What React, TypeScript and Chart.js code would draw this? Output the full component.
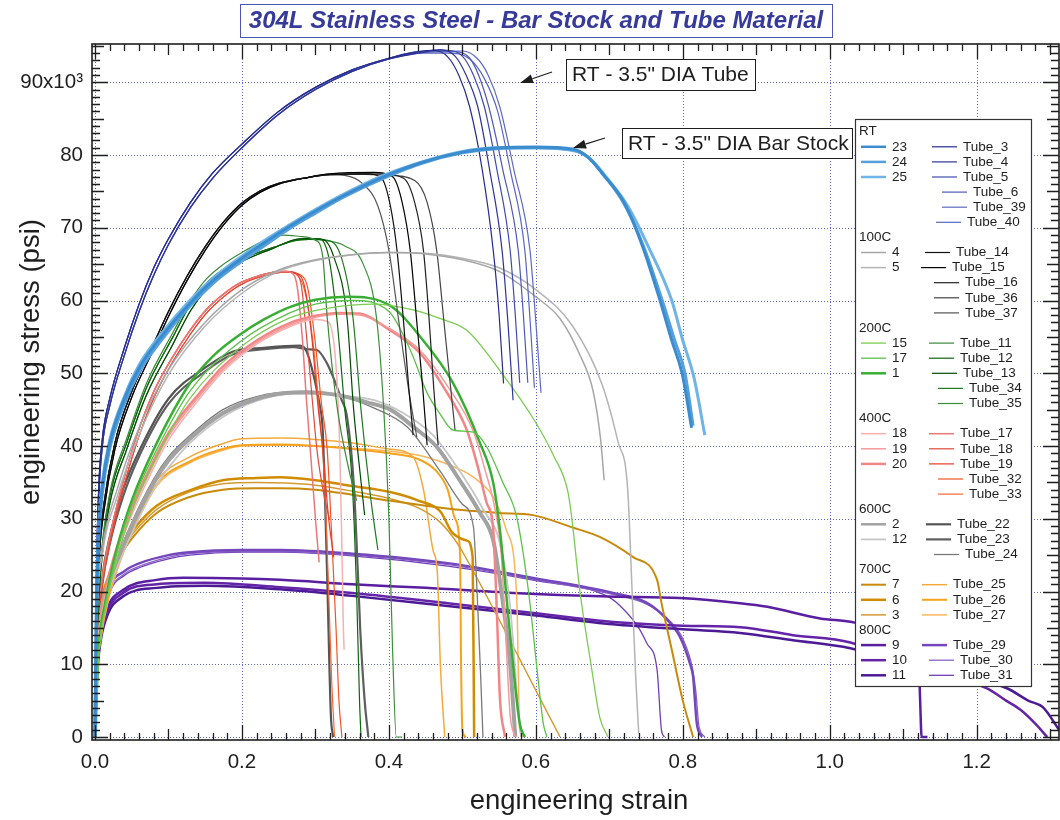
import React, { useEffect, useRef } from 'react';
import { Chart, registerables } from 'chart.js';

Chart.register(...registerables);

type P = [number, number];

// ---------- axis ticks ----------
const xTickValues = [0, 0.2, 0.4, 0.6, 0.8, 1.0, 1.2];
const yTickValues = [0, 10000, 20000, 30000, 40000, 50000, 60000, 70000, 80000, 90000];

// ---------- RT : 3.5" DIA bar stock ----------
const bar23: P[] = [[0,0],[0.002,18000],[0.005,28000],[0.01,34500],[0.02,40400],[0.04,46500],[0.061,50900],[0.09,55000],[0.129,59600],[0.16,62700],[0.197,65600],[0.23,67900],[0.265,70200],[0.3,72300],[0.338,74400],[0.39,76900],[0.446,79000],[0.5,80400],[0.55,81000],[0.6,81100],[0.651,80800],[0.67,79800],[0.69,77500],[0.72,73500],[0.745,67500],[0.769,60000],[0.785,54500],[0.799,50000],[0.812,42500]];
const bar24: P[] = [[0,0],[0.002,17000],[0.005,27000],[0.01,33500],[0.02,39600],[0.04,45800],[0.061,50300],[0.09,54500],[0.129,59200],[0.16,62300],[0.197,65200],[0.23,67500],[0.265,69900],[0.3,72000],[0.338,74200],[0.39,76700],[0.446,78900],[0.5,80300],[0.55,80900],[0.6,81000],[0.651,80700],[0.672,79600],[0.692,77300],[0.72,73300],[0.746,67600],[0.772,60000],[0.789,54500],[0.803,50000],[0.814,42800]];
const bar25: P[] = [[0,0],[0.002,19000],[0.005,29000],[0.01,35000],[0.02,40800],[0.04,46800],[0.061,51300],[0.09,55400],[0.129,60000],[0.16,63000],[0.197,65900],[0.23,68200],[0.265,70400],[0.3,72500],[0.338,74600],[0.39,77100],[0.446,79100],[0.5,80500],[0.55,81000],[0.6,81000],[0.655,80500],[0.677,79200],[0.697,76800],[0.725,73000],[0.755,67000],[0.785,60000],[0.8,54500],[0.815,49500],[0.83,41500]];

// ---------- RT : 3.5" DIA tube ----------
const rtTubeRiseA: P[] = [[0,0],[0.002,22000],[0.005,34000],[0.01,41000],[0.02,46500],[0.04,53500],[0.06,59500],[0.08,64500],[0.1,68500],[0.13,73500],[0.16,77500],[0.2,81500],[0.25,86000],[0.3,89300],[0.35,91700],[0.4,93300],[0.44,94200]];
const rtTubeRiseB: P[] = [[0,0],[0.002,20000],[0.005,32500],[0.01,40000],[0.02,45500],[0.04,52500],[0.06,58500],[0.08,63500],[0.1,67700],[0.13,72800],[0.16,76800],[0.2,81000],[0.25,85600],[0.3,89000],[0.35,91500],[0.4,93200],[0.44,94000]];
const tube3: P[] = [...rtTubeRiseA, [0.46,94400],[0.48,93500],[0.495,91000],[0.51,86600],[0.527,78000],[0.542,66900],[0.55,58000],[0.556,48600]];
const tube4: P[] = [...rtTubeRiseB, [0.47,94500],[0.49,93600],[0.505,91000],[0.521,86600],[0.537,78000],[0.554,66900],[0.562,57000],[0.569,46300]];
const tube5: P[] = [...rtTubeRiseA, [0.48,94400],[0.5,93600],[0.515,91000],[0.53,86600],[0.547,78000],[0.565,66900],[0.572,58000],[0.578,48700]];
const tube6: P[] = [...rtTubeRiseB, [0.49,94200],[0.51,93300],[0.522,91000],[0.536,86600],[0.555,78000],[0.576,66900],[0.583,58000],[0.589,48700]];
const tube39: P[] = [...rtTubeRiseA, [0.5,94300],[0.52,93300],[0.535,91000],[0.551,86600],[0.57,78000],[0.592,66900],[0.6,57000],[0.607,47300]];
const tube40: P[] = [...rtTubeRiseB, [0.48,94000],[0.51,93200],[0.53,90500],[0.548,86000],[0.565,78000],[0.585,66900],[0.592,57500],[0.598,48000]];

// ---------- 100C ----------
const bar4: P[] = [[0,0],[0.003,18000],[0.01,26000],[0.03,34000],[0.06,42500],[0.1,50500],[0.15,57000],[0.2,61500],[0.25,64200],[0.3,65600],[0.35,66300],[0.4,66600],[0.45,66400],[0.5,65600],[0.55,64000],[0.6,60500],[0.633,57500],[0.66,52500],[0.678,47500],[0.688,41000],[0.693,35300]];
const bar5: P[] = [[0,0],[0.003,17000],[0.01,25000],[0.03,33000],[0.06,41500],[0.1,49800],[0.15,56500],[0.2,61000],[0.25,64000],[0.3,65500],[0.35,66300],[0.4,66600],[0.45,66500],[0.5,65800],[0.55,64500],[0.6,61500],[0.65,56500],[0.69,48500],[0.712,40500],[0.725,34000],[0.731,20000],[0.736,8000],[0.74,500]];
const t100RiseA: P[] = [[0,0],[0.002,16000],[0.006,26000],[0.012,32000],[0.027,40400],[0.05,47500],[0.075,53000],[0.1,58500],[0.125,63300],[0.15,67400],[0.175,70800],[0.2,73400],[0.225,75100],[0.25,76100],[0.289,76900],[0.32,77300]];
const t100RiseB: P[] = [[0,0],[0.002,15000],[0.006,25000],[0.012,31000],[0.027,39500],[0.05,46700],[0.075,52300],[0.1,57800],[0.125,62700],[0.15,66900],[0.175,70400],[0.2,73100],[0.225,74900],[0.25,76000],[0.289,76900],[0.32,77400]];
const tube14: P[] = [...t100RiseA, [0.37,77400],[0.39,76800],[0.402,73000],[0.411,66900],[0.42,57000],[0.427,48000],[0.433,41500]];
const tube15: P[] = [...t100RiseB, [0.38,77600],[0.405,77000],[0.418,73500],[0.429,66900],[0.438,57000],[0.446,48000],[0.452,40100]];
const tube16: P[] = [...t100RiseA, [0.39,77400],[0.42,76800],[0.435,73500],[0.447,66900],[0.455,57000],[0.461,48000],[0.467,40100]];
const tube36: P[] = [...t100RiseB, [0.4,77200],[0.435,76500],[0.452,73500],[0.465,66900],[0.475,57000],[0.483,49000],[0.49,42200]];
const tube37: P[] = [...t100RiseA, [0.34,77200],[0.365,76000],[0.385,73000],[0.4,66900],[0.415,56000],[0.428,47000],[0.438,41200]];

// ---------- 200C ----------
const bar15: P[] = [[0,0],[0.005,11000],[0.014,17500],[0.03,24500],[0.05,31000],[0.084,38500],[0.129,46500],[0.197,53500],[0.265,57600],[0.32,59000],[0.38,59500],[0.433,58700],[0.47,57500],[0.506,55900],[0.55,50500],[0.6,43200],[0.625,38500],[0.643,34000],[0.648,30800],[0.66,20000],[0.675,10000],[0.687,2700],[0.698,0]];
const bar17: P[] = [[0,0],[0.005,11500],[0.014,18000],[0.03,25500],[0.05,32000],[0.084,39500],[0.129,47500],[0.197,54300],[0.265,58300],[0.3,59500],[0.35,60000],[0.4,58500],[0.43,53000],[0.452,47300],[0.469,44500],[0.487,42200],[0.515,41900],[0.533,39900],[0.555,35000],[0.574,30200],[0.59,20000],[0.603,8000],[0.61,1900],[0.615,0]];
const bar1: P[] = [[0,0],[0.005,12000],[0.014,18500],[0.03,26000],[0.05,32500],[0.084,40400],[0.129,48600],[0.16,52300],[0.197,55300],[0.23,57400],[0.265,59100],[0.3,60100],[0.343,60500],[0.4,59400],[0.446,54600],[0.487,48700],[0.524,40400],[0.542,34900],[0.551,28500],[0.565,14000],[0.578,1900],[0.585,0]];
const t200RiseA: P[] = [[0,0],[0.003,15000],[0.008,24000],[0.02,33000],[0.043,40400],[0.07,48000],[0.106,55000],[0.13,59500],[0.152,62400],[0.175,64300],[0.197,65600],[0.243,67300],[0.27,68200],[0.29,68400]];
const t200RiseB: P[] = [[0,0],[0.003,14000],[0.008,23000],[0.02,32000],[0.043,39500],[0.07,47000],[0.106,54000],[0.13,58600],[0.152,61600],[0.175,63700],[0.197,65200],[0.243,67200],[0.27,68300],[0.29,68500]];
const tube11: P[] = [[0,0],[0.003,15500],[0.008,24500],[0.02,33500],[0.043,41000],[0.07,48600],[0.106,55600],[0.13,60000],[0.152,63000],[0.175,65000],[0.2,66600],[0.23,68200],[0.256,69000],[0.28,68800],[0.3,68300],[0.31,66000],[0.316,57700],[0.33,45000],[0.345,37000],[0.356,32500]];
const tube12: P[] = [...t200RiseA, [0.305,68500],[0.318,66000],[0.329,57700],[0.34,45000],[0.35,35000],[0.356,20000],[0.36,5000],[0.362,0]];
const tube13: P[] = [...t200RiseB, [0.31,68400],[0.325,66000],[0.343,57700],[0.352,45000],[0.36,37000],[0.367,30500]];
const tube34: P[] = [...t200RiseA, [0.315,68300],[0.335,66000],[0.351,57700],[0.362,45000],[0.375,33000],[0.385,25700]];
const tube35: P[] = [...t200RiseB, [0.31,68300],[0.34,67500],[0.365,65000],[0.383,57700],[0.393,45000],[0.4,30000],[0.405,12000],[0.41,0],[0.418,0]];

// ---------- 400C ----------
const bar18: P[] = [[0,0],[0.003,11000],[0.01,17000],[0.025,23500],[0.05,30500],[0.075,36000],[0.1,40800],[0.14,46200],[0.174,50200],[0.22,54000],[0.265,56400],[0.3,57400],[0.318,57000],[0.328,51000],[0.333,40000],[0.336,26000],[0.338,15000],[0.339,12000]];
const bar19: P[] = [[0,0],[0.003,11500],[0.01,17500],[0.025,24000],[0.05,31000],[0.075,36500],[0.1,41300],[0.14,46600],[0.174,50500],[0.22,54200],[0.265,56600],[0.3,57700],[0.333,58100],[0.36,58000],[0.4,56200],[0.442,53200],[0.48,48200],[0.515,42000],[0.53,37000],[0.545,31000],[0.553,25000],[0.56,12000],[0.565,3000],[0.572,0]];
const bar20: P[] = [[0,0],[0.003,12000],[0.01,18000],[0.025,24500],[0.05,31500],[0.075,37000],[0.1,41800],[0.14,47000],[0.174,50900],[0.22,54500],[0.265,56900],[0.3,57900],[0.333,58300],[0.36,58200],[0.4,56000],[0.442,52800],[0.475,48000],[0.506,42200],[0.52,37500],[0.533,32200],[0.542,28500],[0.547,17000],[0.551,5500],[0.558,0]];
const t400RiseA: P[] = [[0,0],[0.003,15000],[0.008,20500],[0.02,27500],[0.038,35000],[0.057,41500],[0.08,47500],[0.106,52300],[0.13,56000],[0.152,58800],[0.175,60900],[0.197,62400],[0.22,63300],[0.243,63900],[0.26,64000]];
const t400RiseB: P[] = [[0,0],[0.003,14000],[0.008,19500],[0.02,26500],[0.038,34000],[0.057,40500],[0.08,46600],[0.106,51600],[0.13,55400],[0.152,58300],[0.175,60500],[0.197,62100],[0.22,63100],[0.243,63700],[0.26,63900]];
const tube17: P[] = [...t400RiseA, [0.268,63800],[0.275,62000],[0.282,55000],[0.288,46000],[0.293,39500],[0.3,30000],[0.305,24000]];
const tube18: P[] = [...t400RiseB, [0.27,63800],[0.28,62500],[0.288,55000],[0.296,46000],[0.302,39500],[0.312,33000],[0.319,30000]];
const tube19: P[] = [...t400RiseA, [0.275,63700],[0.285,62000],[0.295,55000],[0.303,46000],[0.31,39500],[0.318,30000],[0.325,24700]];
const tube32: P[] = [...t400RiseB, [0.28,63500],[0.29,61500],[0.3,54000],[0.308,46000],[0.316,39500],[0.322,28000],[0.328,15000],[0.332,5000],[0.336,0]];
const tube33: P[] = [...t400RiseA, [0.275,63500],[0.285,61500],[0.297,54000],[0.305,45000],[0.312,36000],[0.318,20000],[0.322,8000],[0.326,0]];

// ---------- 600C ----------
const bar2: P[] = [[0,0],[0.002,10000],[0.008,17000],[0.02,21600],[0.05,29000],[0.08,35000],[0.1,38000],[0.129,41000],[0.174,44500],[0.22,46500],[0.26,47300],[0.289,47400],[0.33,47000],[0.37,46000],[0.402,45000],[0.435,42500],[0.465,39900],[0.495,35500],[0.524,30800],[0.542,27000],[0.553,20000],[0.565,10000],[0.572,0]];
const bar12: P[] = [[0,0],[0.002,9000],[0.008,16000],[0.02,20500],[0.05,28000],[0.08,34000],[0.1,37000],[0.129,40400],[0.174,44000],[0.22,46200],[0.27,47200],[0.33,47000],[0.38,46300],[0.42,44500],[0.46,41500],[0.5,36000],[0.53,31000],[0.55,27000],[0.565,18000],[0.575,5000],[0.58,0]];
const tube22: P[] = [[0,0],[0.003,14000],[0.01,22000],[0.02,27500],[0.038,34000],[0.061,39500],[0.1,46500],[0.152,50900],[0.188,53000],[0.23,53500],[0.279,53800],[0.288,53000],[0.298,49500],[0.306,45500],[0.31,42000],[0.316,22000],[0.321,3000],[0.324,0]];
const tube23: P[] = [[0,0],[0.003,13000],[0.01,21000],[0.02,26500],[0.038,33000],[0.061,38800],[0.1,45800],[0.152,50400],[0.188,52600],[0.23,53300],[0.27,53600],[0.29,53300],[0.302,53200],[0.315,51500],[0.324,49500],[0.335,46500],[0.343,44000],[0.352,35000],[0.358,22000],[0.361,14700],[0.367,5000],[0.372,0]];
const tube24: P[] = [[0,0],[0.003,12000],[0.01,18500],[0.02,22000],[0.05,29500],[0.08,35500],[0.1,38500],[0.13,41500],[0.174,45000],[0.22,46800],[0.28,47500],[0.33,47000],[0.38,45200],[0.425,42600],[0.47,36500],[0.5,32000],[0.515,28900],[0.52,20000],[0.525,8000],[0.528,0]];

// ---------- 700C ----------
const bar7: P[] = [[0,0],[0.002,10000],[0.008,17000],[0.02,21500],[0.035,25000],[0.052,27500],[0.084,30800],[0.129,33000],[0.174,34000],[0.22,34200],[0.252,34200],[0.3,34000],[0.35,33300],[0.4,32500],[0.45,31800],[0.5,31200],[0.55,30800],[0.596,30500],[0.65,28800],[0.687,27500],[0.733,24700],[0.765,21600],[0.771,18400],[0.785,12000],[0.8,5000],[0.814,0]];
const bar6: P[] = [[0,0],[0.002,11000],[0.008,18000],[0.02,22500],[0.035,26000],[0.052,28500],[0.084,31800],[0.129,33900],[0.174,35300],[0.22,35600],[0.252,35700],[0.3,35300],[0.35,34500],[0.4,33700],[0.44,32500],[0.47,31000],[0.487,28000],[0.506,27000],[0.514,24700],[0.516,0]];
const bar3: P[] = [[0,0],[0.002,10500],[0.008,17500],[0.02,22000],[0.035,25500],[0.052,28000],[0.084,31300],[0.129,33700],[0.174,34800],[0.22,35000],[0.26,34900],[0.3,34600],[0.35,33800],[0.4,32800],[0.44,31500],[0.47,29500],[0.494,26500],[0.5,25500],[0.633,0]];
const tube25: P[] = [[0,0],[0.002,8000],[0.008,14500],[0.02,20500],[0.035,25300],[0.048,28600],[0.084,35300],[0.129,38500],[0.17,40200],[0.2,41000],[0.25,41100],[0.3,40900],[0.35,40400],[0.4,39600],[0.433,38500],[0.447,34000],[0.46,25700],[0.466,22500],[0.47,10000],[0.476,0]];
const tube26: P[] = [[0,0],[0.002,7800],[0.008,14000],[0.02,20000],[0.035,24800],[0.048,28000],[0.084,34800],[0.129,37900],[0.17,39500],[0.2,40100],[0.25,40200],[0.3,40000],[0.35,39600],[0.4,39000],[0.44,38200],[0.465,36500],[0.48,34000],[0.49,30000],[0.497,24700],[0.498,12000],[0.5,1000],[0.505,0]];
const tube27: P[] = [[0,0],[0.002,7500],[0.008,13500],[0.02,19500],[0.035,24300],[0.048,27600],[0.084,34500],[0.129,37700],[0.17,39300],[0.2,40000],[0.25,40100],[0.3,40000],[0.35,39700],[0.4,39300],[0.45,38500],[0.506,36300],[0.524,35000],[0.542,33000],[0.56,28400],[0.574,19200],[0.578,1000],[0.583,0]];

// ---------- 800C ----------
const bar9: P[] = [[0,0],[0.002,8000],[0.006,13000],[0.016,17500],[0.038,20200],[0.084,21600],[0.12,21900],[0.2,21800],[0.252,21600],[0.35,21000],[0.45,20500],[0.569,19800],[0.7,19300],[0.796,19100],[0.878,18400],[0.915,17900],[0.987,16300],[1.03,15800],[1.08,14500],[1.12,13500],[1.123,5000],[1.125,0],[1.133,0]];
const bar10: P[] = [[0,0],[0.002,7500],[0.006,12500],[0.016,17000],[0.038,19800],[0.084,21000],[0.15,21200],[0.252,20600],[0.35,19800],[0.48,18400],[0.6,17000],[0.705,15800],[0.8,15300],[0.878,15100],[0.95,14000],[1.028,13000],[1.12,9500],[1.214,6700],[1.24,5000],[1.26,3700],[1.28,1800],[1.296,0]];
const bar11: P[] = [[0,0],[0.002,7000],[0.006,12000],[0.016,16500],[0.038,19300],[0.084,20500],[0.15,20800],[0.252,20300],[0.35,19400],[0.48,18000],[0.6,16700],[0.705,15500],[0.8,14800],[0.878,14300],[0.95,13300],[1.028,12200],[1.12,9500],[1.241,6700],[1.27,5000],[1.29,4100],[1.312,1000]];
const tube29: P[] = [[0,0],[0.002,9000],[0.006,14500],[0.02,20600],[0.04,22800],[0.061,23900],[0.1,25000],[0.129,25400],[0.2,25700],[0.252,25700],[0.35,25200],[0.48,23900],[0.6,21800],[0.705,19800],[0.75,18500],[0.779,16100],[0.796,13800],[0.81,10000],[0.814,8300],[0.819,1900],[0.826,0]];
const tube30: P[] = [[0,0],[0.002,8500],[0.006,14000],[0.02,20000],[0.04,22400],[0.061,23500],[0.1,24700],[0.129,25200],[0.2,25500],[0.252,25500],[0.35,25000],[0.48,23700],[0.6,21600],[0.705,19600],[0.752,18200],[0.782,16000],[0.8,13500],[0.813,9500],[0.818,6000],[0.822,1500],[0.83,0]];
const tube31: P[] = [[0,0],[0.002,8000],[0.006,13500],[0.02,19800],[0.04,22200],[0.061,23300],[0.1,24500],[0.129,25000],[0.2,25400],[0.252,25400],[0.35,24900],[0.48,23500],[0.6,21500],[0.7,19200],[0.72,17500],[0.74,15000],[0.751,12900],[0.765,9200],[0.771,900],[0.775,0]];

// ---------- series table (label, data, style) ----------
const series = [
  { label: '23', data: bar23, color: '#3b8ccf', width: 3 },
  { label: '24', data: bar24, color: '#55a0da', width: 3 },
  { label: '25', data: bar25, color: '#6fb4e6', width: 3 },
  { label: 'Tube_3', data: tube3, color: '#262c8e', width: 1.2 },
  { label: 'Tube_4', data: tube4, color: '#2d3496', width: 1.2 },
  { label: 'Tube_5', data: tube5, color: '#414bab', width: 1.2 },
  { label: 'Tube_6', data: tube6, color: '#4e59b6', width: 1.2 },
  { label: 'Tube_39', data: tube39, color: '#5f6bc0', width: 1.2 },
  { label: 'Tube_40', data: tube40, color: '#5a66be', width: 1.2 },
  { label: '4', data: bar4, color: '#a6a6a6', width: 1.5 },
  { label: '5', data: bar5, color: '#b4b4b4', width: 1.5 },
  { label: 'Tube_14', data: tube14, color: '#111111', width: 1.2 },
  { label: 'Tube_15', data: tube15, color: '#000000', width: 1.2 },
  { label: 'Tube_16', data: tube16, color: '#222222', width: 1.2 },
  { label: 'Tube_36', data: tube36, color: '#444444', width: 1.2 },
  { label: 'Tube_37', data: tube37, color: '#555555', width: 1.2 },
  { label: '15', data: bar15, color: '#7acc52', width: 1.3 },
  { label: '17', data: bar17, color: '#5cc148', width: 1.3 },
  { label: '1', data: bar1, color: '#39ae33', width: 2.5 },
  { label: 'Tube_11', data: tube11, color: '#3a883a', width: 1.2 },
  { label: 'Tube_12', data: tube12, color: '#0c680c', width: 1.2 },
  { label: 'Tube_13', data: tube13, color: '#004a00', width: 1.2 },
  { label: 'Tube_34', data: tube34, color: '#1e7c1e', width: 1.2 },
  { label: 'Tube_35', data: tube35, color: '#3a8f3a', width: 1.2 },
  { label: '18', data: bar18, color: '#f8b0b0', width: 1.5 },
  { label: '19', data: bar19, color: '#f59a9a', width: 1.5 },
  { label: '20', data: bar20, color: '#f28686', width: 2.5 },
  { label: 'Tube_17', data: tube17, color: '#e87878', width: 1.5 },
  { label: 'Tube_18', data: tube18, color: '#e04a3a', width: 1.2 },
  { label: 'Tube_19', data: tube19, color: '#e63a28', width: 1.2 },
  { label: 'Tube_32', data: tube32, color: '#ee5527', width: 1.2 },
  { label: 'Tube_33', data: tube33, color: '#f26832', width: 1.2 },
  { label: '2', data: bar2, color: '#a2a2a2', width: 4 },
  { label: '12', data: bar12, color: '#c6c6c6', width: 1.8 },
  { label: 'Tube_22', data: tube22, color: '#555555', width: 2.2 },
  { label: 'Tube_23', data: tube23, color: '#5e5e5e', width: 2.2 },
  { label: 'Tube_24', data: tube24, color: '#7a7a7a', width: 1.3 },
  { label: '7', data: bar7, color: '#c98a0c', width: 2 },
  { label: '6', data: bar6, color: '#d08c00', width: 2.5 },
  { label: '3', data: bar3, color: '#d49a30', width: 1.5 },
  { label: 'Tube_25', data: tube25, color: '#f5a93a', width: 1.5 },
  { label: 'Tube_26', data: tube26, color: '#f7a21b', width: 2 },
  { label: 'Tube_27', data: tube27, color: '#fbb65a', width: 1.5 },
  { label: '9', data: bar9, color: '#5a1ea0', width: 2.5 },
  { label: '10', data: bar10, color: '#6424a8', width: 2.5 },
  { label: '11', data: bar11, color: '#4d1a96', width: 2.5 },
  { label: 'Tube_29', data: tube29, color: '#7448bc', width: 2.5 },
  { label: 'Tube_30', data: tube30, color: '#8a62c8', width: 1.3 },
  { label: 'Tube_31', data: tube31, color: '#7040b8', width: 1.3 },
];

// ---------- legend layout (rows) ----------
const legendRows: { head?: string; l?: string; r?: string; rx?: number }[] = [
  { head: 'RT' },
  { l: '23', r: 'Tube_3', rx: 932 },
  { l: '24', r: 'Tube_4', rx: 932 },
  { l: '25', r: 'Tube_5', rx: 932 },
  { r: 'Tube_6', rx: 942 },
  { r: 'Tube_39', rx: 942 },
  { r: 'Tube_40', rx: 936 },
  { head: '100C' },
  { l: '4', r: 'Tube_14', rx: 925 },
  { l: '5', r: 'Tube_15', rx: 921 },
  { r: 'Tube_16', rx: 934 },
  { r: 'Tube_36', rx: 934 },
  { r: 'Tube_37', rx: 934 },
  { head: '200C' },
  { l: '15', r: 'Tube_11', rx: 929 },
  { l: '17', r: 'Tube_12', rx: 929 },
  { l: '1', r: 'Tube_13', rx: 932 },
  { r: 'Tube_34', rx: 938 },
  { r: 'Tube_35', rx: 938 },
  { head: '400C' },
  { l: '18', r: 'Tube_17', rx: 929 },
  { l: '19', r: 'Tube_18', rx: 929 },
  { l: '20', r: 'Tube_19', rx: 929 },
  { r: 'Tube_32', rx: 938 },
  { r: 'Tube_33', rx: 938 },
  { head: '600C' },
  { l: '2', r: 'Tube_22', rx: 926 },
  { l: '12', r: 'Tube_23', rx: 926 },
  { r: 'Tube_24', rx: 934 },
  { head: '700C' },
  { l: '7', r: 'Tube_25', rx: 922 },
  { l: '6', r: 'Tube_26', rx: 922 },
  { l: '3', r: 'Tube_27', rx: 922 },
  { head: '800C' },
  { l: '9', r: 'Tube_29', rx: 922 },
  { l: '10', r: 'Tube_30', rx: 929 },
  { l: '11', r: 'Tube_31', rx: 929 },
];

const FONT = '"Liberation Sans", Arial, Helvetica, sans-serif';
const X_MIN = -0.0041;
const X_MAX = 1.312;
const Y_MIN = -412;
const Y_MAX = 95260;
const GRID = '#5b66c9';
const INK = '#1e1e1e';

const styleOf: Record<string, { color: string; width: number }> = {};
series.forEach((s) => (styleOf[s.label] = { color: s.color, width: s.width }));

function arrow(ctx: CanvasRenderingContext2D, x1: number, y1: number, x2: number, y2: number) {
  const ang = Math.atan2(y2 - y1, x2 - x1);
  const hl = 13, hw = 4.5;
  const bx = x2 - hl * Math.cos(ang), by = y2 - hl * Math.sin(ang);
  ctx.beginPath();
  ctx.moveTo(x1, y1);
  ctx.lineTo(bx, by);
  ctx.stroke();
  ctx.beginPath();
  ctx.moveTo(x2, y2);
  ctx.lineTo(bx + hw * Math.sin(ang), by - hw * Math.cos(ang));
  ctx.lineTo(bx - hw * Math.sin(ang), by + hw * Math.cos(ang));
  ctx.closePath();
  ctx.fill();
}

function labelBox(ctx: CanvasRenderingContext2D, text: string, x: number, y: number, w: number, h: number) {
  ctx.fillStyle = '#ffffff';
  ctx.fillRect(x, y, w, h);
  ctx.strokeStyle = INK;
  ctx.lineWidth = 1;
  ctx.strokeRect(x + 0.5, y + 0.5, w, h);
  ctx.fillStyle = INK;
  ctx.font = `21px ${FONT}`;
  ctx.textAlign = 'left';
  ctx.textBaseline = 'middle';
  ctx.fillText(text, x + 6, y + h / 2 + 1);
}

const decorPlugin = {
  id: 'decor',
  beforeDatasetsDraw(chart: any) {
    const { ctx, chartArea: a, scales } = chart;
    const x = scales.x, y = scales.y;
    ctx.save();
    ctx.strokeStyle = GRID;
    ctx.lineWidth = 1;
    ctx.setLineDash([1, 2]);
    xTickValues.forEach((v) => {
      const px = Math.round(x.getPixelForValue(v)) + 0.5;
      ctx.beginPath();
      ctx.moveTo(px, a.top);
      ctx.lineTo(px, a.bottom);
      ctx.stroke();
    });
    yTickValues.forEach((v) => {
      const py = Math.round(y.getPixelForValue(v)) + 0.5;
      ctx.beginPath();
      ctx.moveTo(a.left, py);
      ctx.lineTo(a.right, py);
      ctx.stroke();
    });
    ctx.restore();
  },
  afterDatasetsDraw(chart: any) {
    const { ctx, chartArea: a, scales } = chart;
    const x = scales.x, y = scales.y;
    ctx.save();
    // ticks on all four sides, pointing inward
    ctx.strokeStyle = INK;
    ctx.lineWidth = 1.3;
    for (let i = 0; i <= 66; i++) {
      const v = i * 0.02;
      if (v > X_MAX) break;
      const len = i % 10 === 0 ? 15 : i % 5 === 0 ? 11 : 7;
      const px = Math.round(x.getPixelForValue(v)) + 0.5;
      ctx.beginPath();
      ctx.moveTo(px, a.bottom);
      ctx.lineTo(px, a.bottom - len);
      ctx.moveTo(px, a.top);
      ctx.lineTo(px, a.top + len);
      ctx.stroke();
    }
    for (let k = 0; k <= 95; k++) {
      const v = k * 1000;
      if (v > Y_MAX) break;
      const len = k % 10 === 0 ? 16 : k % 5 === 0 ? 12 : 8;
      const py = Math.round(y.getPixelForValue(v)) + 0.5;
      ctx.beginPath();
      ctx.moveTo(a.left, py);
      ctx.lineTo(a.left + len, py);
      ctx.moveTo(a.right, py);
      ctx.lineTo(a.right - len, py);
      ctx.stroke();
    }
    // frame
    ctx.lineWidth = 1.6;
    ctx.strokeRect(a.left, a.top, a.right - a.left, a.bottom - a.top);

    // annotations
    ctx.fillStyle = INK;
    ctx.strokeStyle = INK;
    ctx.lineWidth = 1.2;
    arrow(ctx, 552, 72, 520, 83);
    arrow(ctx, 605, 138, 573, 148);
    labelBox(ctx, 'RT - 3.5" DIA Tube', 566, 59, 189, 31);
    labelBox(ctx, 'RT - 3.5" DIA Bar Stock', 622, 128, 230, 30);

    // legend
    const lx = 855, ly = 119, lw = 176, lh = 567;
    ctx.fillStyle = '#ffffff';
    ctx.fillRect(lx, ly, lw, lh);
    ctx.strokeStyle = '#333333';
    ctx.lineWidth = 1.2;
    ctx.strokeRect(lx + 0.5, ly + 0.5, lw, lh);
    ctx.font = `13.5px ${FONT}`;
    ctx.textBaseline = 'middle';
    ctx.textAlign = 'left';
    legendRows.forEach((row, i) => {
      const ry = 131.7 + i * 15.1;
      if (row.head) {
        ctx.fillStyle = INK;
        ctx.fillText(row.head, 859, ry);
        return;
      }
      const drawEntry = (label: string, x0: number) => {
        const st = styleOf[label];
        ctx.strokeStyle = st.color;
        ctx.lineWidth = Math.min(st.width, 2.5);
        ctx.beginPath();
        ctx.moveTo(x0, ry);
        ctx.lineTo(x0 + 25, ry);
        ctx.stroke();
        ctx.fillStyle = INK;
        ctx.fillText(label, x0 + 31, ry);
      };
      if (row.l) drawEntry(row.l, 861);
      if (row.r && row.rx) drawEntry(row.r, row.rx);
    });

    // chart title box
    ctx.fillStyle = '#ffffff';
    ctx.fillRect(240, 4, 592, 33);
    ctx.strokeStyle = '#4e54b0';
    ctx.lineWidth = 1;
    ctx.strokeRect(240.5, 4.5, 592, 33);
    ctx.fillStyle = '#363a9a';
    ctx.font = `italic bold 24px ${FONT}`;
    ctx.textAlign = 'center';
    ctx.textBaseline = 'middle';
    ctx.fillText('304L Stainless Steel - Bar Stock and Tube Material', 536, 21.5);

    // axis titles
    ctx.fillStyle = INK;
    ctx.font = `27.5px ${FONT}`;
    ctx.textAlign = 'center';
    ctx.textBaseline = 'middle';
    ctx.fillText('engineering strain', 579, 801);
    ctx.translate(31, 362);
    ctx.rotate(-Math.PI / 2);
    ctx.fillText('engineering stress (psi)', 0, 0);
    ctx.restore();
  },
};

export default function App() {
  const ref = useRef<HTMLCanvasElement | null>(null);
  useEffect(() => {
    if (!ref.current) return;
    Chart.defaults.font.family = FONT;
    const chart = new Chart(ref.current, {
      type: 'line',
      data: {
        datasets: series.map((s) => ({
          label: s.label,
          data: s.data.map(([sx, sy]) => ({ x: sx, y: sy })),
          borderColor: s.color,
          borderWidth: s.width,
          pointRadius: 0,
          fill: false,
          cubicInterpolationMode: 'monotone' as const,
        })),
      },
      options: {
        animation: false,
        responsive: true,
        maintainAspectRatio: false,
        events: [],
        layout: { padding: { left: 0, right: 1, top: 44, bottom: 0 } },
        plugins: { legend: { display: false }, tooltip: { enabled: false }, title: { display: false } },
        scales: {
          x: {
            type: 'linear',
            min: X_MIN,
            max: X_MAX,
            grid: { display: false, drawTicks: false },
            border: { display: false },
            afterBuildTicks: (s: any) => {
              s.ticks = xTickValues.map((v) => ({ value: v }));
            },
            afterFit: (s: any) => {
              s.height = 80;
            },
            ticks: {
              font: { size: 20.5, family: FONT },
              color: INK,
              padding: 10,
              maxRotation: 0,
              autoSkip: false,
              callback: (v: any) => Number(v).toFixed(1),
            },
          },
          y: {
            type: 'linear',
            min: Y_MIN,
            max: Y_MAX,
            grid: { display: false, drawTicks: false },
            border: { display: false },
            afterBuildTicks: (s: any) => {
              s.ticks = yTickValues.map((v) => ({ value: v }));
            },
            afterFit: (s: any) => {
              s.width = 92;
            },
            ticks: {
              font: { size: 20.5, family: FONT },
              color: INK,
              padding: 9,
              autoSkip: false,
              callback: (v: any) => (v === 90000 ? '90x10\u00B3' : String(Math.round(Number(v) / 1000))),
            },
          },
        },
      },
      plugins: [decorPlugin],
    } as any);
    return () => chart.destroy();
  }, []);
  return (
    <div style={{ position: 'absolute', left: 0, top: 0, width: 1060, height: 820, background: '#ffffff' }}>
      <canvas ref={ref} />
    </div>
  );
}
